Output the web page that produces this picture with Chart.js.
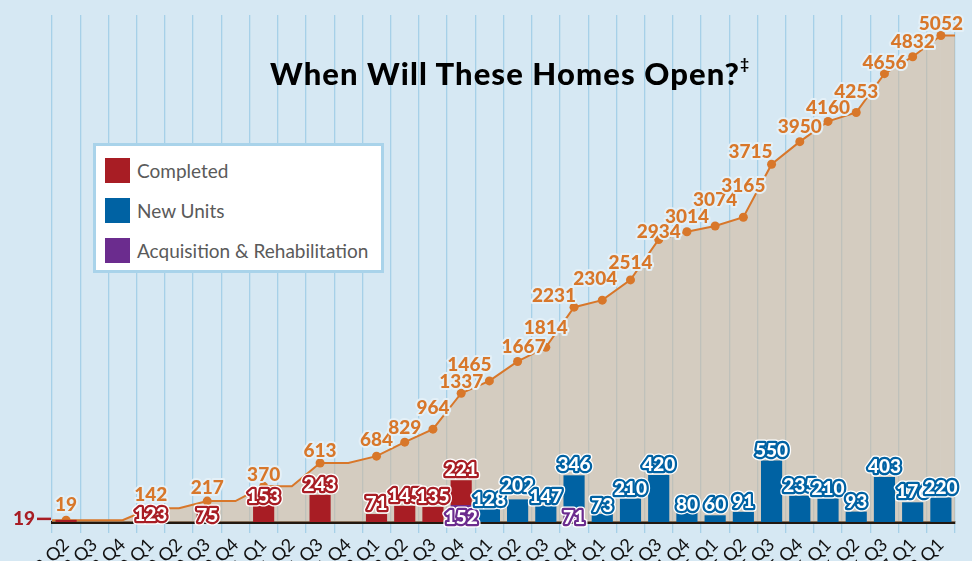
<!DOCTYPE html>
<html>
<head>
<meta charset="utf-8">
<script src="https://cdn.jsdelivr.net/npm/chart.js@4.4.0/dist/chart.umd.min.js"></script>
<style>
html,body{margin:0;padding:0;background:#d6e8f3;overflow:hidden;width:972px;height:561px;}
#wrap{position:relative;width:972px;height:561px;}
canvas{display:block;position:absolute;left:0;top:0;}
#title{position:absolute;left:0;width:1020px;top:54px;text-align:center;font:900 31px Lato, sans-serif;color:#000;letter-spacing:1.1px;}
#title sup{font-size:15px;position:relative;top:-5px;}
#legend{position:absolute;left:93px;top:143px;width:291px;height:130px;box-sizing:border-box;border:3px solid #a9d3ea;background:#fff;}
.item{position:absolute;left:9px;height:25px;font:19px Lato, sans-serif;color:#5a5a5a;white-space:nowrap;}
.sw{position:absolute;left:0;top:0;width:25px;height:25px;}
.tx{position:absolute;left:32px;top:0;line-height:25px;}
</style>
</head>
<body>
<div id="wrap">
<canvas id="c" width="972" height="561"></canvas>
<div id="title">When Will These Homes Open?<sup>‡</sup></div>
<div id="legend"></div>
</div>
<script>
// ---- data ----
const quarters = ['2019 Q2','2019 Q3','2019 Q4','2020 Q1','2020 Q2','2020 Q3','2020 Q4','2021 Q1','2021 Q2','2021 Q3','2021 Q4','2022 Q1','2022 Q2','2022 Q3','2022 Q4','2023 Q1','2023 Q2','2023 Q3','2023 Q4','2024 Q1','2024 Q2','2024 Q3','2024 Q4','2025 Q1','2025 Q2','2025 Q3','2025 Q4','2026 Q1','2026 Q2','2026 Q3','2027 Q1','2028 Q1'];
const completed = [19,null,null,123,null,75,null,153,null,243,null,71,145,135,221,null,null,null,null,null,null,null,null,null,null,null,null,null,null,null,null,null];
const newUnits = [null,null,null,null,null,null,null,null,null,null,null,null,null,null,null,128,202,147,346,73,210,420,80,60,91,550,235,210,93,403,176,220];
const acquisition = [null,null,null,null,null,null,null,null,null,null,null,null,null,null,152,null,null,null,71,null,null,null,null,null,null,null,null,null,null,null,null,null];
const cumulative = [19,19,19,142,142,217,217,370,370,613,613,684,829,964,1337,1465,1667,1814,2231,2304,2514,2934,3014,3074,3165,3715,3950,4160,4253,4656,4832,5052];
const seriesNames = ['Completed','New Units','Acquisition & Rehabilitation'];

// ---- styles (label placement tweaks, in pixels) ----
const RED='#a81d24', BLUE='#0062a3', PURPLE='#6b2c8e', ORANGE='#d8772a';
const AREA='rgba(210,181,151,0.56)';
const FONT='Lato, sans-serif';
const cumLabelShift = {0:[0,-15],3:[0,-13],5:[0,-13],7:[0,-11],9:[0,-12],11:[0,-16],12:[0,-14],13:[0,-21],14:[0,-11],
  15:[-20,-16],16:[6,-15],17:[0,-19],18:[-20,-11],19:[-7,-21],20:[0,-17],21:[0,-8],22:[0,-15],23:[0,-26],24:[0,-31],
  25:[-21,-12],26:[0,-15],27:[0,-14],28:[0,-21],29:[0,-11],30:[0,-15],31:[0,-12]};
const barLabelShift = {'Completed':{3:7,5:2.5,7:-8},'New Units':{15:-8,16:-14,17:-8.5,22:-8,19:-8}};

const changed = (i)=> i===0 || cumulative[i]!==cumulative[i-1];

const extendPlugin = {
  id:'extend',
  beforeDatasetsDraw(chart){
    const idx = chart.data.datasets.findIndex(d=>d.type==='line');
    const pts = chart.getDatasetMeta(idx).data;
    const a = chart.chartArea, ctx = chart.ctx;
    const f = pts[0], l = pts[pts.length-1];
    ctx.save();
    ctx.fillStyle = AREA;
    ctx.fillRect(a.left, f.y, f.x-a.left, a.bottom-f.y);
    ctx.fillRect(l.x, l.y, a.right-l.x, a.bottom-l.y);
    ctx.strokeStyle = ORANGE; ctx.lineWidth = 2;
    ctx.beginPath();
    ctx.moveTo(a.left, f.y); ctx.lineTo(f.x, f.y);
    ctx.moveTo(l.x, l.y); ctx.lineTo(a.right, l.y);
    ctx.stroke();
    ctx.restore();
  }
};

function outlined(ctx, text, x, y, fill, stroke, halo){
  ctx.lineJoin='round';
  if(halo){ ctx.strokeStyle=halo; ctx.lineWidth=7; ctx.strokeText(text,x,y); }
  ctx.strokeStyle=stroke; ctx.lineWidth=halo?4.5:4; ctx.strokeText(text,x,y);
  ctx.fillStyle=fill; ctx.fillText(text,x,y);
}

const labelPlugin = {
  id:'labels',
  afterDatasetsDraw(chart){
    const ctx = chart.ctx, a = chart.chartArea;
    ctx.save();
    ctx.font = '900 19px '+FONT;
    ctx.textAlign='center'; ctx.textBaseline='middle';
    chart.data.datasets.forEach((ds,di)=>{
      if(ds.type==='line') return;
      const meta = chart.getDatasetMeta(di);
      const shifts = barLabelShift[ds.label] || {};
      meta.data.forEach((el,i)=>{
        const v = ds.data[i]; if(v==null) return;
        if(ds.labelAt==='base'){
          outlined(ctx, String(v), el.x, el.base-4, '#fff', ds.backgroundColor, '#fff');
        } else if(Math.abs(el.base-el.y) < 4 && i===0){
          ctx.fillStyle=ds.backgroundColor; ctx.textAlign='right';
          ctx.fillText(String(v), a.left-17, el.y-1);
          ctx.strokeStyle=ds.backgroundColor; ctx.lineWidth=2.5;
          ctx.beginPath(); ctx.moveTo(a.left-15, el.y-1); ctx.lineTo(a.left-1, el.y-1); ctx.stroke();
          ctx.textAlign='center';
        } else {
          const dy = (i in shifts) ? shifts[i] : -10;
          outlined(ctx, String(v), el.x, el.y+dy, '#fff', ds.backgroundColor, '#fff');
        }
      });
    });
    // cumulative labels
    const li = chart.data.datasets.findIndex(d=>d.type==='line');
    const lm = chart.getDatasetMeta(li);
    lm.data.forEach((el,i)=>{
      if(!changed(i)) return;
      const s = cumLabelShift[i] || [0,-15];
      outlined(ctx, String(cumulative[i]), el.x+s[0], el.y+s[1], ORANGE, '#e4f0f7', null);
    });
    ctx.restore();
  }
};

const chart = new Chart(document.getElementById('c'), {
  data:{
    labels: quarters,
    datasets:[
      {type:'line', label:'Cumulative', data:cumulative, yAxisID:'y2', order:3,
       borderColor:ORANGE, borderWidth:2, backgroundColor:AREA, fill:'origin', tension:0,
       pointRadius:(c)=>changed(c.dataIndex)?4.5:0, pointHoverRadius:0,
       pointBackgroundColor:ORANGE, pointBorderWidth:0},
      {type:'bar', label:seriesNames[2], data:acquisition, backgroundColor:PURPLE, stack:'s', yAxisID:'y', order:1, labelAt:'base'},
      {type:'bar', label:seriesNames[0], data:completed, backgroundColor:RED, stack:'s', yAxisID:'y', order:1},
      {type:'bar', label:seriesNames[1], data:newUnits, backgroundColor:BLUE, stack:'s', yAxisID:'y', order:1}
    ]
  },
  options:{
    responsive:false, animation:false, devicePixelRatio:1,
    layout:{padding:{top:15,left:52,right:17,bottom:0}},
    datasets:{bar:{barPercentage:0.75, categoryPercentage:1}},
    plugins:{legend:{display:false}, tooltip:{enabled:false}, title:{display:false}},
    scales:{
      x:{stacked:true, offset:true,
         grid:{display:true, offset:true, color:'#a6d0e8', lineWidth:1.3, tickLength:11, drawOnChartArea:true},
         border:{display:true, color:'#22180f', width:3},
         ticks:{autoSkip:false, minRotation:45, maxRotation:45, color:'#111', font:{family:FONT, size:18}, padding:1},
         afterFit(s){ s.height = 39; s.paddingLeft = 0; s.paddingRight = 0; }
      },
      y:{stacked:true, display:false, min:0, max:4530},
      y2:{display:false, min:0, max:5265}
    }
  },
  plugins:[extendPlugin, labelPlugin]
});

// HTML legend built from the chart's datasets
const lg = document.getElementById('legend');
seriesNames.forEach((n,k)=>{
  const ds = chart.data.datasets.find(d=>d.label===n);
  const it = document.createElement('div');
  it.className='item'; it.style.top=(12+k*40)+'px';
  it.innerHTML='<div class="sw" style="background:'+ds.backgroundColor+'"></div><div class="tx"></div>';
  it.querySelector('.tx').textContent=n;
  lg.appendChild(it);
});
</script>
</body>
</html>
